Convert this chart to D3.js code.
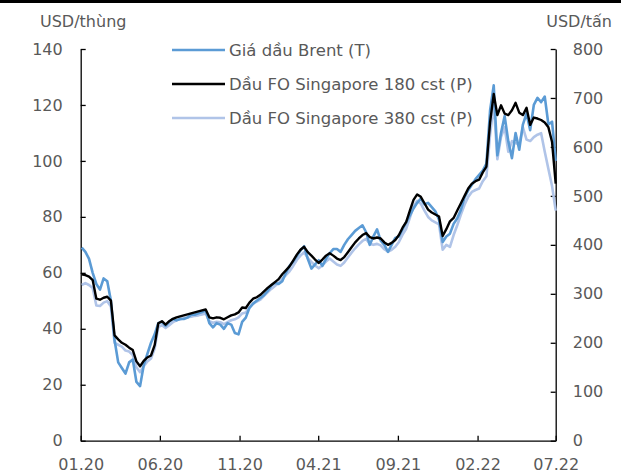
<!DOCTYPE html>
<html>
<head>
<meta charset="utf-8">
<script src="https://cdn.jsdelivr.net/npm/d3@7"></script>
<style>
  body { margin: 0; background: #fff; }
  text { font-family: "DejaVu Sans", sans-serif; fill: #595959; }
</style>
</head>
<body>
<div id="chart"></div>
<script>
// Weekly observations starting 03.01.2020
const startDate = new Date(2020, 0, 3);

// Brent, USD/thùng (left axis)
const brent = [
  69.0, 67.5, 65, 60, 56, 54, 58, 57, 50, 36,
  28, 26, 24, 28, 29, 21, 19.5, 27, 31, 35,
  38, 42, 42.5, 41, 42.5, 43.5, 43, 43.5, 43.5, 44,
  45, 45, 45.5, 46, 46.5, 42, 40.5, 42, 41.5, 40,
  42, 41.5, 38.5, 38, 42.5, 44, 47.5, 49, 50, 51,
  52, 53.5, 55.5, 56.5, 56, 57, 60, 62.5, 64, 66,
  68, 69.5, 65, 61.5, 63, 64.5, 62.5, 65, 67, 68.5,
  68.5, 67.5, 70, 72, 73.5, 75, 76, 77, 74.5, 70,
  73, 75.5, 71.5, 70, 67.5, 70, 72.5, 73, 75.5, 78,
  80.5, 83, 85, 86.5, 84.5, 85, 83.5, 82, 79, 71,
  73, 74, 77.5, 79.5, 82.5, 87, 89.5, 91.5, 93.5, 95,
  96.5, 99, 118, 127, 102, 110, 116, 107, 101, 110,
  104, 113, 117, 111, 120, 122.5, 121, 123, 113, 114,
  100
];

// FO Singapore 180 cst, USD/tấn (right axis)
const fo180 = [
  340, 338, 335, 328, 290, 288, 292, 294, 286, 215,
  207, 200, 196, 190, 185, 162, 152, 163, 170, 174,
  195, 240, 244, 237, 244, 249, 252, 254, 256, 258,
  260, 262, 264, 266, 268, 252, 250, 252, 251, 248,
  252, 256, 258, 262, 272, 271, 282, 290, 293, 298,
  305, 312, 318, 324, 330, 340, 348, 356, 368, 380,
  390, 396, 385, 378, 370, 363, 370, 378, 383, 378,
  372, 369, 375, 385, 395, 405, 413, 420, 424, 416,
  413, 415, 413, 405, 400, 404, 410, 420, 435, 447,
  470, 492, 503, 498, 485, 472, 466, 462, 458, 418,
  432, 448, 455, 470, 485, 500, 515, 525, 530, 533,
  548, 560, 650, 708, 665, 685, 668, 665, 675, 690,
  670, 665, 680, 645, 660, 658, 655, 650, 640, 610,
  525
];

// FO Singapore 380 cst, USD/tấn (right axis)
const fo380 = [
  318, 322, 318, 312, 276, 275, 282, 285, 274, 200,
  196, 192, 184, 182, 175, 150, 140, 152, 162, 168,
  188, 232, 236, 230, 236, 242, 246, 248, 250, 252,
  253, 255, 256, 258, 260, 244, 241, 243, 242, 238,
  242, 246, 248, 252, 260, 262, 272, 280, 284, 288,
  296, 303, 310, 316, 322, 331, 338, 346, 357, 369,
  378, 385, 373, 365, 358, 352, 358, 366, 372, 366,
  360, 357, 364, 374, 384, 393, 401, 408, 412, 402,
  400, 402, 399, 391, 386, 390, 396, 406, 421, 433,
  455, 478, 490, 484, 470, 457, 450, 446, 442, 390,
  400, 396, 420, 440, 462, 482, 498, 508, 512, 515,
  530, 540, 625, 688, 575, 620, 640, 590, 612, 608,
  605, 640, 615, 612, 620, 625, 628, 590, 555, 520,
  470
];

const leftTicks = [0, 20, 40, 60, 80, 100, 120, 140];
const rightTicks = [0, 100, 200, 300, 400, 500, 600, 700, 800];
const xTickDates = [
  new Date(2020, 0, 1), new Date(2020, 5, 1), new Date(2020, 10, 1),
  new Date(2021, 3, 1), new Date(2021, 8, 1), new Date(2022, 1, 1),
  new Date(2022, 6, 1)
];
const legendLabels = ["Giá dầu Brent (T)", "Dầu FO Singapore 180 cst (P)", "Dầu FO Singapore 380 cst (P)"];
const colors = ["#5b9bd5", "#000000", "#b0c4e8"];

const width = 621, height = 475;
const plot = { left: 80.7, right: 555.7, top: 49, bottom: 440.7 };

const dates = brent.map((_, i) => d3.timeDay.offset(startDate, 7 * i));

const svg = d3.select("#chart").append("svg")
  .attr("width", width)
  .attr("height", height);

// black rule at the top
svg.append("rect").attr("x", 0).attr("y", 0).attr("width", width).attr("height", 3).attr("fill", "#000");

const x = d3.scaleTime()
  .domain([new Date(2020, 0, 1), new Date(2022, 6, 1)])
  .range([plot.left, plot.right]);
const yL = d3.scaleLinear().domain([0, 140]).range([plot.bottom, plot.top]);
const yR = d3.scaleLinear().domain([0, 800]).range([plot.bottom, plot.top]);

// axes
const axisL = svg.append("g").attr("transform", `translate(${plot.left},0)`)
  .call(d3.axisLeft(yL).tickValues(leftTicks).tickSizeInner(-5).tickSizeOuter(0).tickPadding(18));
const axisR = svg.append("g").attr("transform", `translate(${plot.right},0)`)
  .call(d3.axisRight(yR).tickValues(rightTicks).tickSizeInner(-5).tickSizeOuter(0).tickPadding(17));
const axisB = svg.append("g").attr("transform", `translate(0,${plot.bottom})`)
  .call(d3.axisBottom(x).tickValues(xTickDates).tickFormat(d3.timeFormat("%m.%y"))
    .tickSizeInner(-5).tickSizeOuter(0).tickPadding(18));

[axisL, axisR, axisB].forEach(g => {
  g.select(".domain").attr("stroke", "#000").attr("stroke-width", 1.3);
  g.selectAll(".tick line").attr("stroke", "#000").attr("stroke-width", 1.3);
  g.selectAll("text").attr("font-size", 16).attr("font-family", "DejaVu Sans").attr("fill", "#595959");
});

// unit titles
svg.append("text").attr("x", 40).attr("y", 27).attr("font-size", 16).text("USD/thùng");
svg.append("text").attr("x", 612).attr("y", 27).attr("font-size", 16).attr("text-anchor", "end").text("USD/tấn");

// series
const lineL = d3.line().x((d, i) => x(dates[i])).y(d => yL(d));
const lineR = d3.line().x((d, i) => x(dates[i])).y(d => yR(d));

svg.append("path").datum(fo380).attr("d", lineR)
  .attr("fill", "none").attr("stroke", colors[2]).attr("stroke-width", 2.6).attr("stroke-linejoin", "round");
svg.append("path").datum(brent).attr("d", lineL)
  .attr("fill", "none").attr("stroke", colors[0]).attr("stroke-width", 2.6).attr("stroke-linejoin", "round");
svg.append("path").datum(fo180).attr("d", lineR)
  .attr("fill", "none").attr("stroke", colors[1]).attr("stroke-width", 2.4).attr("stroke-linejoin", "round");

// legend
const legendY = [50, 84, 118];
const legend = svg.append("g");
legendLabels.forEach((label, i) => {
  legend.append("line")
    .attr("x1", 172).attr("x2", 225).attr("y1", legendY[i]).attr("y2", legendY[i])
    .attr("stroke", colors[i]).attr("stroke-width", 2.6);
  legend.append("text")
    .attr("x", 229).attr("y", legendY[i]).attr("dy", "0.35em")
    .attr("font-size", 16.5).text(label);
});
</script>
</body>
</html>
